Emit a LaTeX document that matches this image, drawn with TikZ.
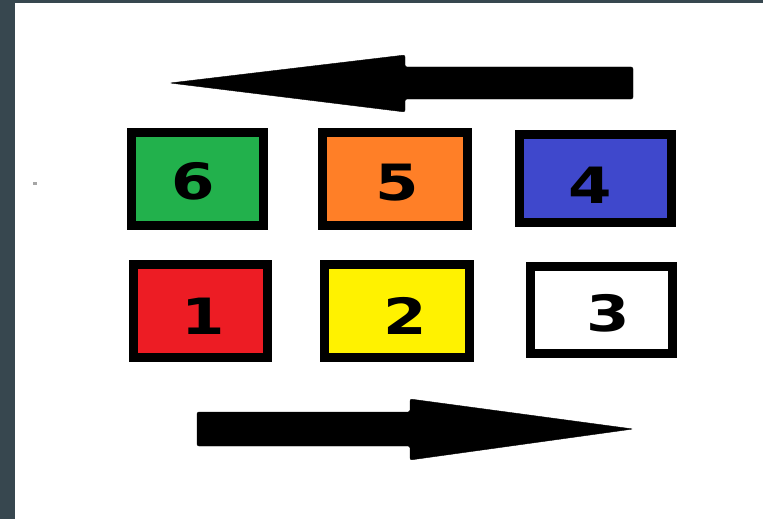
\documentclass[tikz,border=0pt]{standalone}
\usepackage{fontspec}
\setmainfont{DejaVu Sans}
\definecolor{slate}{HTML}{37474F}
\definecolor{paintgreen}{HTML}{22B14C}
\definecolor{paintorange}{HTML}{FF7F27}
\definecolor{paintblue}{HTML}{3F48CC}
\definecolor{paintred}{HTML}{ED1C24}
\definecolor{paintyellow}{HTML}{FFF200}
% digit, moved right by #1/2 and down by #2
\newcommand\tilenum[3]{\raisebox{-#2pt}[\height][\depth]{\hspace*{#1pt}\scalebox{1.25}[1]{#3}}}
\tikzset{
  tile/.style={draw=black, line width=9pt, minimum height=93pt, inner sep=0pt,
    font=\fontsize{50}{60}\selectfont\bfseries},
  bigarrow/.style={fill=black, rounded corners=2pt}
}
\begin{document}
\begin{tikzpicture}[x=1pt, y=-1pt]
            \useasboundingbox (0,0) rectangle (763,519);
            \fill[slate] (0,0) rectangle (763,3);
            \fill[slate] (0,0) rectangle (15,519);
            \fill[gray!70] (33,182) rectangle (37,185);
            % upper row
            \node[tile, fill=paintgreen, minimum width=132pt] (six) at (197.5,179) {\tilenum{-9}{2}{6}};
            \node[tile, fill=paintorange, minimum width=145pt] (five) at (395,179) {\tilenum{4}{4}{5}};
            \node[tile, fill=paintblue, minimum width=152pt, minimum height=88pt] (four) at (595.5,178.5) {\tilenum{-11}{7}{4}};
            % lower row
            \node[tile, fill=paintred, minimum width=134pt] (one) at (200.5,311) {\tilenum{5}{5}{1}};
            \node[tile, fill=paintyellow, minimum width=145pt] (two) at (397,311) {\tilenum{16}{5}{2}};
            \node[tile, fill=white, minimum width=142pt, minimum height=87pt] (three) at (601.5,310) {\tilenum{13}{3}{3}};
            % arrows
            \draw[bigarrow] (170,83) -- (405,55) -- (405,67) -- (633,67) -- (633,99) -- (405,99) -- (405,112) -- cycle;
            \draw[bigarrow] (633,429) -- (410,399) -- (410,412) -- (197,412) -- (197,446) -- (410,446) -- (410,460) -- cycle;
        \end{tikzpicture}
\end{document}
